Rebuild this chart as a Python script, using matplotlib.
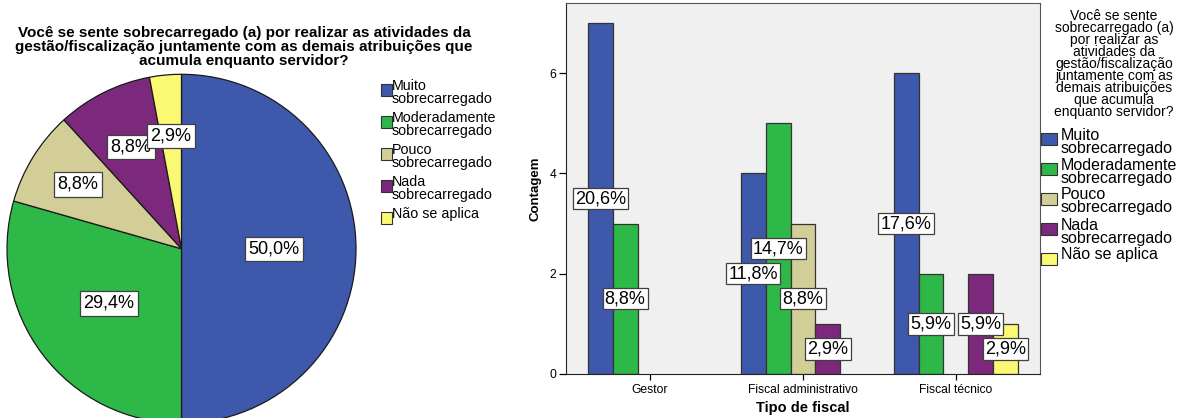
import numpy as np
import matplotlib.pyplot as plt
from matplotlib.patches import Rectangle

plt.rcParams['font.family'] = ['Liberation Sans', 'DejaVu Sans']

W, H = 1189, 418

respostas = ['Muito\nsobrecarregado', 'Moderadamente\nsobrecarregado',
             'Pouco\nsobrecarregado', 'Nada\nsobrecarregado', 'Não se aplica']
cores = ['#3E58AC', '#2EB848', '#D3CE97', '#7C287D', '#FBF873']

# pie: total counts per answer
pie_counts = [17, 10, 3, 3, 1]

# bar: counts per fiscal type
tipos = ['Gestor', 'Fiscal administrativo', 'Fiscal técnico']
muito = [7, 4, 6]
moderadamente = [3, 5, 2]
pouco = [0, 3, 0]
nada = [0, 1, 2]
nao_aplica = [0, 0, 1]
series = [muito, moderadamente, pouco, nada, nao_aplica]

titulo = ('Você se sente sobrecarregado (a) por realizar as atividades da\n'
          'gestão/fiscalização juntamente com as demais atribuições que\n'
          'acumula enquanto servidor?')
titulo_legenda = ['Você se sente', 'sobrecarregado (a)', 'por realizar as',
                  'atividades da', 'gestão/fiscalização', 'juntamente com as',
                  'demais atribuições', 'que acumula', 'enquanto servidor?']


def pct(v, total):
    return ('%.1f%%' % (100.0 * v / total)).replace('.', ',')


def fx(px):
    return px / W


def fy(py):
    return 1 - py / H


fig = plt.figure(figsize=(W / 100, H / 100), dpi=100)

# ---- pie ----
cx, cy, r = 181.5, 248.8, 174.5
ax_pie = fig.add_axes([fx(cx - r), fy(cy + r), 2 * r / W, 2 * r / H])
total = sum(pie_counts)
wedges, _ = ax_pie.pie(pie_counts, colors=cores, startangle=90, counterclock=False,
                       wedgeprops=dict(edgecolor='#1a1a1a', linewidth=0.9))
ax_pie.set_xlim(-1, 1)
ax_pie.set_ylim(-1, 1)
label_r = [0.53, 0.52, 0.70, 0.65, 0.65]
box_pie = dict(boxstyle='square,pad=0.2', fc='white', ec='#404040', lw=0.9)
for w, v, lr in zip(wedges, pie_counts, label_r):
    ang = np.deg2rad((w.theta1 + w.theta2) / 2)
    ax_pie.text(lr * np.cos(ang), lr * np.sin(ang), pct(v, total), fontsize=13,
                ha='center', va='center', bbox=box_pie, zorder=5)

fig.text(fx(244), fy(47), titulo, ha='center', va='center', fontsize=11,
         fontweight='bold', linespacing=1.0)


def legenda(x_patch, pw, ph, x_text, first_y, item_step, line_step, fs):
    y = first_y
    for lab, c in zip(respostas, cores):
        fig.patches.append(Rectangle((fx(x_patch), fy(y - 2 + ph)), pw / W, ph / H,
                                     transform=fig.transFigure, fc=c, ec='#333333', lw=0.8))
        for k, line in enumerate(lab.split('\n')):
            fig.text(fx(x_text), fy(y + k * line_step), line, fontsize=fs,
                     ha='left', va='center')
        y += item_step


legenda(381, 11, 12, 392, 86, 32, 13, 10.3)

# ---- bars ----
ax = fig.add_axes([fx(566), fy(374), (1040 - 566) / W, 371 / H])
ax.set_facecolor('#F0F0F0')
x = np.arange(len(tipos))
bw = 0.163
n_total = sum(sum(s) for s in series)
box_bar = dict(boxstyle='square,pad=0.12', fc='white', ec='#404040', lw=0.9)
for j, (vals, c) in enumerate(zip(series, cores)):
    xs = x + (j - 2) * bw
    for xi, v in zip(xs, vals):
        if v == 0:
            continue
        ax.bar(xi, v, bw, color=c, edgecolor='#333333', linewidth=0.9, zorder=2)
        ax.text(xi, v / 2, pct(v, n_total), fontsize=13, ha='center', va='center',
                bbox=box_bar, zorder=5)

ax.set_xlim(-0.55, 2.55)
ax.set_ylim(0, 7.4)
ax.set_xticks(x)
ax.set_xticklabels(tipos, fontsize=8.7)
ax.set_yticks([0, 2, 4, 6])
ax.tick_params(axis='y', labelsize=8.7, length=5, width=0.9, pad=2)
ax.tick_params(axis='x', length=4, width=0.9, pad=3)
for s in ax.spines.values():
    s.set_color('#555555')
    s.set_linewidth(0.8)
ax.spines['bottom'].set_color('#222222')
ax.spines['left'].set_color('#222222')
ax.set_ylabel('Contagem', fontsize=9.5, fontweight='bold', labelpad=6)
ax.set_xlabel('Tipo de fiscal', fontsize=10.5, fontweight='bold')
ax.xaxis.set_label_coords(0.5, -(408 - 374) / 371, transform=ax.transAxes)
ax.xaxis.label.set_va('center')

for k, line in enumerate(titulo_legenda):
    fig.text(fx(1114), fy(16 + 12 * k), line, fontsize=10, ha='center', va='center')
legenda(1041, 16, 12, 1061, 135, 30, 13, 11.5)

fig.savefig('out.png', dpi=100)
